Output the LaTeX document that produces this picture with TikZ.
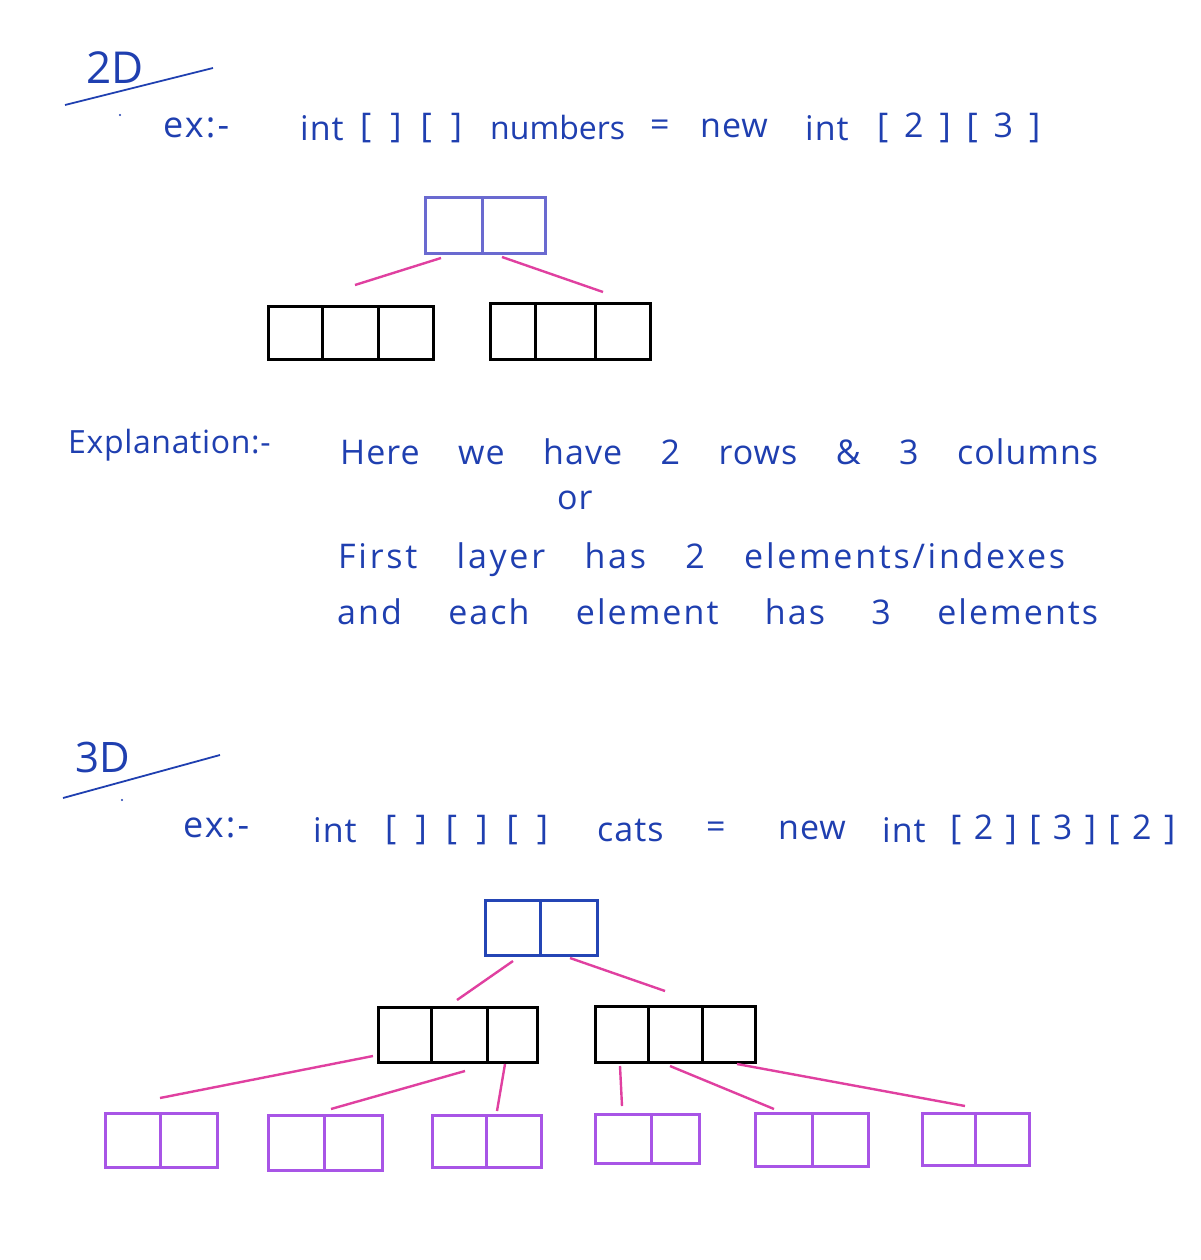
\documentclass[tikz,border=0pt]{standalone}
\usepackage{fontspec}
\setmainfont{Open Sans}
\definecolor{ink}{HTML}{1F3FB0}
\definecolor{lav}{HTML}{6A6AD0}
\definecolor{topblue}{HTML}{2445B5}
\definecolor{pinkc}{HTML}{E040A0}
\definecolor{purp}{HTML}{A855E6}
\newcommand\arrbox[7]{%
  \pgfmathsetmacro\bw{#4-#2}\pgfmathsetmacro\bh{#5-#3}%
  \node[draw=#7, line width=3pt, inner sep=0pt, outer sep=0pt, minimum width=\bw pt, minimum height=\bh pt, anchor=north west] (#1) at (#2,#3) {};
  \foreach \d in {#6} \draw[draw=#7, line width=3pt] (\d,#3) -- (\d,#5);
}
\newcommand\spreadw[2]{\makebox[#1pt][s]{#2}}
\begin{document}
\begin{tikzpicture}[x=1pt,y=-1pt,
  txt/.style={text=ink, inner sep=0pt, anchor=west, font=\fontsize{34}{40}\selectfont\addfontfeature{LetterSpace=3}},
  pinkline/.style={draw=pinkc, line width=2.4pt},
  uline/.style={draw=ink, line width=1.8pt}]
\useasboundingbox[fill=white] (0,0) rectangle (1200,1260);

% ---------- 2D ----------
\node[txt, font=\fontsize{44}{50}\selectfont] (t2d) at (86,68) {2D};
\coordinate (u2a) at (65,105); \coordinate (u2b) at (213,68);
\draw[uline] (u2a) -- (u2b);
\node[circle, fill=ink, inner sep=0.8pt] (dot2) at (120,115) {};
\node[txt, font=\fontsize{36}{40}\selectfont\addfontfeature{LetterSpace=6}] (ex2) at (163,128) {ex:-};
\node[txt] (w21) at (300,128) {int};
\node[txt] (w22) at (360,128) {\spreadw{102}{[ ] [ ]}};
\node[txt, font=\fontsize{32}{40}\selectfont] (w23) at (490,128) {numbers};
\node[txt] (w24) at (650,128) {=};
\node[txt] (w25) at (700,128) {\spreadw{72}{new}};
\node[txt] (w26) at (805,128) {\spreadw{54}{int}};
\node[txt] (w27) at (877,128) {\spreadw{163}{[ 2 ] [ 3 ]}};

\arrbox{b2top}{425}{198}{545}{253}{482}{lav}
\arrbox{b2l}{268}{306}{433}{359}{322,378}{black}
\arrbox{b2r}{490}{303}{650}{359}{535,595}{black}
\coordinate (p1a) at (355,285); \coordinate (p1b) at (441,258);
\coordinate (p2a) at (502,257); \coordinate (p2b) at (603,292);
\draw[pinkline] (p1a) -- (p1b);
\draw[pinkline] (p2a) -- (p2b);

% ---------- Explanation ----------
\node[txt, font=\fontsize{32}{36}\selectfont\addfontfeature{LetterSpace=2}] (expl) at (68,445) {\spreadw{212}{Explanation:-}};
\node[txt] (l1) at (340,452) {\spreadw{758}{Here we have 2 rows \& 3 columns}};
\node[txt] (l2) at (557,500) {or};
\node[txt, font=\fontsize{34}{40}\selectfont\addfontfeature{LetterSpace=8}] (l3) at (338,560) {\spreadw{727}{First layer has 2 elements/indexes}};
\node[txt, font=\fontsize{34}{40}\selectfont\addfontfeature{LetterSpace=6}] (l4) at (337,612) {\spreadw{761}{and each element has 3 elements}};

% ---------- 3D ----------
\node[txt, font=\fontsize{42}{48}\selectfont] (t3d) at (75,757) {3D};
\coordinate (u3a) at (63,798); \coordinate (u3b) at (220,755);
\draw[uline] (u3a) -- (u3b);
\node[circle, fill=ink, inner sep=0.8pt] (dot3) at (122,800) {};
\node[txt, font=\fontsize{36}{40}\selectfont\addfontfeature{LetterSpace=6}] (ex3) at (183,828) {ex:-};
\node[txt] (w31) at (313,830) {int};
\node[txt] (w32) at (385,830) {\spreadw{163}{[ ] [ ] [ ]}};
\node[txt] (w33) at (597,830) {\spreadw{75}{cats}};
\node[txt] (w34) at (706,830) {=};
\node[txt] (w35) at (778,830) {\spreadw{72}{new}};
\node[txt] (w36) at (882,830) {\spreadw{50}{int}};
\node[txt] (w37) at (950,830) {\spreadw{225}{[ 2 ] [ 3 ] [ 2 ]}};

\arrbox{b3top}{485}{900}{597}{955}{540}{topblue}
\arrbox{b3l}{378}{1007}{537}{1062}{431,487}{black}
\arrbox{b3r}{595}{1006}{755}{1062}{648,702}{black}
\coordinate (q1a) at (513,961); \coordinate (q1b) at (457,1000);
\coordinate (q2a) at (570,958); \coordinate (q2b) at (665,991);
\draw[pinkline] (q1a) -- (q1b);
\draw[pinkline] (q2a) -- (q2b);

\arrbox{c1}{105}{1113}{217}{1167}{160}{purp}
\arrbox{c2}{268}{1115}{382}{1170}{324}{purp}
\arrbox{c3}{432}{1115}{541}{1167}{486}{purp}
\arrbox{c4}{595}{1114}{699}{1163}{651}{purp}
\arrbox{c5}{755}{1113}{868}{1166}{812}{purp}
\arrbox{c6}{922}{1113}{1029}{1165}{975}{purp}

\coordinate (r1a) at (373,1056); \coordinate (r1b) at (160,1098);
\coordinate (r2a) at (465,1071); \coordinate (r2b) at (331,1109);
\coordinate (r3a) at (505,1064); \coordinate (r3b) at (497,1111);
\coordinate (r4a) at (620,1066); \coordinate (r4b) at (622,1106);
\coordinate (r5a) at (670,1066); \coordinate (r5b) at (774,1109);
\coordinate (r6a) at (737,1064); \coordinate (r6b) at (965,1106);
\foreach \i in {1,...,6} \draw[pinkline] (r\i a) -- (r\i b);
\end{tikzpicture}
\end{document}
